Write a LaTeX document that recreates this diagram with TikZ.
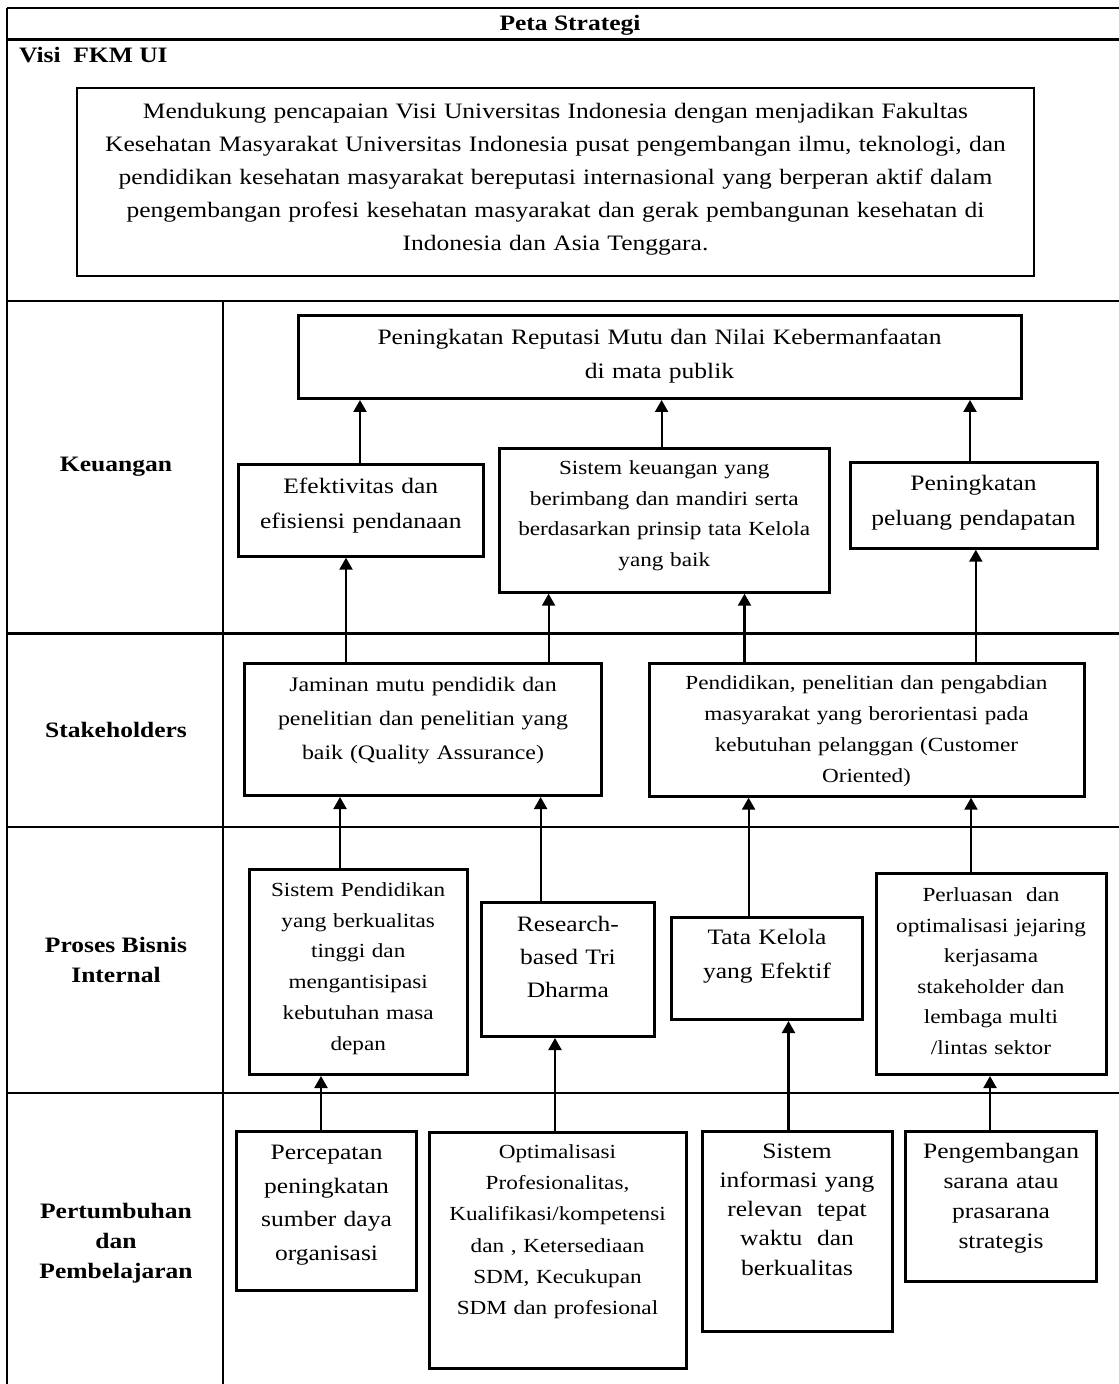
\documentclass[tikz,border=0pt]{standalone}
\usepackage{fontspec}
\setmainfont{Liberation Serif}[FakeStretch=1.16]
\usetikzlibrary{arrows.meta}
\tikzset{
 garis/.style={line width=1.1pt},
 kotak/.style 2 args={draw,line width=1.5pt,anchor=north,align=center,inner sep=0pt,text height=#1,text depth=#2},
 ukuran/.style 2 args={font=\fontsize{#1}{#2}\selectfont},
 judul/.style={font=\fontsize{11}{15}\selectfont\bfseries,align=center},
 pijl/.style={-{Triangle[width=6.5pt,length=6pt]},line width=1.1pt}
}
\begin{document}
\begin{tikzpicture}[x=0.5pt,y=-0.5pt]
 \useasboundingbox (0,0) rectangle (1118,1384);
 \draw [garis](7,8)--(1125,8);
 \draw [garis](7,39.5)--(1125,39.5);
 \draw [garis](7,300.7)--(1125,300.7);
 \draw [garis](7,633.5)--(1125,633.5);
 \draw [garis](7,826.7)--(1125,826.7);
 \draw [garis](7,1093)--(1125,1093);
 \draw [garis](7,8)--(7,1392);
 \draw [garis](223,300.7)--(223,1392);
 \node[judul] (peta) at (570,25) {Peta Strategi};
 \node[judul,anchor=west] (visifkm) at (12,55) {Visi~ FKM UI};
 \node[judul] (keu) at (116,467) {Keuangan};
 \node[judul] (stake) at (116,730) {Stakeholders};
 \node[judul] (proses) at (116,960) {Proses Bisnis\\Internal};
 \node[judul] (tumbuh) at (116,1243) {Pertumbuhan\\dan\\Pembelajaran};
 \node[kotak={15pt}{79pt},line width=0.9pt,text width=478.5pt,ukuran={11}{16.5}] (visi) at (555.5,87.5) {Mendukung pencapaian Visi Universitas Indonesia dengan menjadikan Fakultas\\Kesehatan Masyarakat Universitas Indonesia pusat pengembangan ilmu, teknologi, dan\\pendidikan kesehatan masyarakat bereputasi internasional yang berperan aktif dalam\\pengembangan profesi kesehatan masyarakat dan gerak pembangunan kesehatan di\\Indonesia dan Asia Tenggara.};
 \node[kotak={14.5pt}{27pt},text width=361.5pt,ukuran={11}{17}] (reput) at (659.5,314) {Peningkatan Reputasi Mutu dan Nilai Kebermanfaatan\\di mata publik};
 \node[kotak={14.5pt}{31.5pt},text width=122.75pt,ukuran={11}{17.5}] (efek) at (360.75,462.7) {Efektivitas dan\\efisiensi pendanaan};
 \node[kotak={13.3pt}{58.7pt},text width=165.25pt,ukuran={10}{15.25}] (sisku) at (664.25,446.7) {Sistem keuangan yang\\berimbang dan mandiri serta\\berdasarkan prinsip tata Kelola\\yang baik};
 \node[kotak={14pt}{28.85pt},text width=123.5pt,ukuran={11}{17.5}] (pelu) at (973.5,461) {Peningkatan\\peluang pendapatan};
 \node[kotak={14pt}{52pt},text width=178.6pt,ukuran={10.3}{17}] (jamin) at (423,662) {Jaminan mutu pendidik dan\\penelitian dan penelitian yang\\baik (Quality Assurance)};
 \node[kotak={13.15pt}{53.2pt},text width=217.5pt,ukuran={10}{15.5}] (pendi) at (866.5,662) {Pendidikan, penelitian dan pengabdian\\masyarakat yang berorientasi pada\\kebutuhan pelanggan (Customer\\Oriented)};
 \node[kotak={13.5pt}{89pt},text width=109.2pt,ukuran={10}{15.35}] (sipen) at (358.2,868) {Sistem Pendidikan\\yang berkualitas\\tinggi dan\\mengantisipasi\\kebutuhan masa\\depan};
 \node[kotak={14.65pt}{52.5pt},text width=86.85pt,ukuran={11}{16.5}] (resea) at (567.85,900.7) {Research-\\based Tri\\Dharma};
 \node[kotak={13.8pt}{37.35pt},text width=95.55pt,ukuran={11}{16.7}] (tata) at (766.95,915.7) {Tata Kelola\\yang Efektif};
 \node[kotak={14.15pt}{86.5pt},text width=115pt,ukuran={10}{15.25}] (perlu) at (991,871.7) {Perluasan~ dan\\optimalisasi jejaring\\kerjasama\\stakeholder dan\\lembaga multi\\/lintas sektor};
 \node[kotak={14.15pt}{65.35pt},text width=89.85pt,ukuran={11}{16.7}] (perce) at (326.55,1130) {Percepatan\\peningkatan\\sumber daya\\organisasi};
 \node[kotak={13pt}{105pt},text width=128.5pt,ukuran={10}{15.65}] (optim) at (557.5,1130.7) {Optimalisasi\\Profesionalitas,\\Kualifikasi/kompetensi\\dan , Ketersediaan\\SDM, Kecukupan\\SDM dan profesional};
 \node[kotak={13.35pt}{86.65pt},text width=95pt,ukuran={11}{14.6}] (sisin) at (797,1130) {Sistem\\informasi yang\\relevan~ tepat\\waktu~ dan\\berkualitas};
 \node[kotak={13.35pt}{61.65pt},text width=95.55pt,ukuran={11}{15}] (penge) at (1001.05,1130) {Pengembangan\\sarana atau\\prasarana\\strategis};
 \draw [pijl](efek.north -| 360,0)--(reput.south -| 360,0);
 \draw [pijl](sisku.north -| 661.6,0)--(reput.south -| 661.6,0);
 \draw [pijl](pelu.north -| 970,0)--(reput.south -| 970,0);
 \draw [pijl](jamin.north -| 346,0)--(efek.south -| 346,0);
 \draw [pijl](jamin.north -| 548.6,0)--(sisku.south -| 548.6,0);
 \draw [pijl](pendi.north -| 744.5,0)--(sisku.south -| 744.5,0);
 \draw [pijl](pendi.north -| 975.8,0)--(pelu.south -| 975.8,0);
 \draw [pijl](sipen.north -| 340,0)--(jamin.south -| 340,0);
 \draw [pijl](resea.north -| 540.6,0)--(jamin.south -| 540.6,0);
 \draw [pijl](tata.north -| 748.6,0)--(pendi.south -| 748.6,0);
 \draw [pijl](perlu.north -| 971,0)--(pendi.south -| 971,0);
 \draw [pijl](perce.north -| 321,0)--(sipen.south -| 321,0);
 \draw [pijl](optim.north -| 555,0)--(resea.south -| 555,0);
 \draw [pijl](sisin.north -| 788.5,0)--(tata.south -| 788.5,0);
 \draw [pijl](penge.north -| 990,0)--(perlu.south -| 990,0);
\end{tikzpicture}
\end{document}
